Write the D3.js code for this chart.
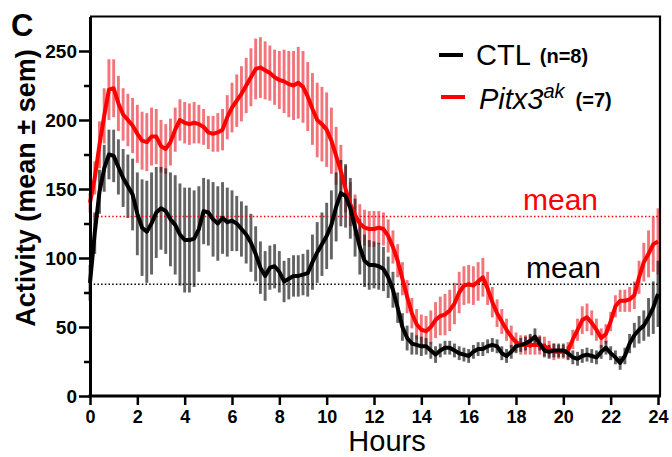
<!DOCTYPE html>
<html>
<head>
<meta charset="utf-8">
<script src="https://cdn.jsdelivr.net/npm/d3@7"></script>
<style>
  body { margin: 0; background: #fff; }
  text { font-family: Arial, "Liberation Sans", sans-serif; }
</style>
</head>
<body>
<script>
// activity binned every 0.2 h (12 min), mean and sem per group
var hours = d3.range(0, 24.001, 0.2)

var ctlMean = [
  82,118,148,165,175,174,166,158,152,146,
  132,122,119,125,133,136,134,128,124,117,
  113,113,114,121,134,133,128,125,129,126,
  127,125,121,117,111,103,93,87,93,94,
  90,83,85,87,87,88,89,97,104,110,
  116,124,137,147,145,136,122,108,98,95,
  95,94,92,86,77,64,50,42,38,37,
  36,36,33,30,33,35,35,33,31,30,
  29,32,34,34,36,37,36,31,29,32,
  36,37,38,40,43,38,33,32,33,33,
  33,31,28,27,29,30,29,28,32,35,
  31,28,24,29,38,44,48,51,57,64,
  74]
var ctlSem = [
  13,15,16,17,18,19,20,21,23,26,
  30,35,37,37,33,30,31,34,36,37,
  38,38,35,31,24,24,27,27,26,25,
  22,20,20,21,21,20,19,18,16,16,
  15,15,15,15,15,15,17,20,22,23,
  24,25,25,24,23,22,21,20,19,18,
  17,17,16,15,13,11,10,9,8,7,
  7,6,6,6,5,5,5,5,5,5,
  5,5,5,5,5,5,5,5,5,5,
  5,5,5,5,6,5,5,5,5,5,
  5,5,5,5,5,5,5,5,5,5,
  5,5,5,6,7,9,10,11,14,19,
  24]

var pitxMean = [
  140,158,182,203,222,223,212,204,200,196,
  190,185,184,188,188,181,179,184,193,200,
  198,197,198,197,195,191,190,191,193,202,
  209,214,219,225,231,237,238,236,234,231,
  229,228,226,225,227,224,217,208,200,197,
  193,185,174,163,150,139,131,125,122,121,
  121,122,121,116,108,98,85,72,60,52,
  48,47,50,55,58,59,62,67,75,80,
  81,80,83,86,78,68,60,54,48,43,
  39,37,37,37,37,37,36,34,32,32,
  32,33,41,48,55,57,53,48,42,45,
  54,65,69,69,70,73,86,97,103,110,
  112]
var pitxSem = [
  7,12,17,20,22,21,20,19,19,20,
  21,21,21,21,20,19,18,17,16,15,
  15,15,15,14,13,12,13,14,15,16,
  18,19,20,20,21,22,22,21,20,20,
  21,23,24,25,26,26,25,26,27,27,
  27,24,21,19,17,16,15,14,13,13,
  13,12,12,12,12,12,12,12,11,11,
  11,11,12,13,14,15,15,15,15,14,
  14,14,14,14,12,11,10,9,8,8,
  7,7,7,7,7,7,7,6,6,5,
  5,6,7,8,10,10,9,8,7,7,
  7,8,8,8,9,10,12,14,17,20,
  24]

var ctlAvg = 81, pitxAvg = 130
var yMajor = [0, 50, 100, 150, 200, 250]
var yMinor = [25, 75, 125, 175, 225]
var xTicks = [0, 2, 4, 6, 8, 10, 12, 14, 16, 18, 20, 22, 24]

var width = 672, height = 457

var svg = d3.select("body").append("svg")
  .attr("width", width)
  .attr("height", height)

var x = d3.scaleLinear().domain([0, 24]).range([90, 658])
var y = d3.scaleLinear().domain([0, 275]).range([396, 16.5])

// error bars first, red under black
function bars(mean, sem, color, op) {
  svg.append("g").selectAll("line")
    .data(hours)
    .enter()
    .append("line")
    .attr("x1", d => x(d)).attr("x2", d => x(d))
    .attr("y1", (d, i) => y(mean[i] - sem[i]))
    .attr("y2", (d, i) => y(mean[i] + sem[i]))
    .attr("stroke", color)
    .attr("stroke-opacity", op)
    .attr("stroke-width", 2.9)
}
bars(pitxMean, pitxSem, "#e8202a", 0.62)
bars(ctlMean, ctlSem, "#1a1a1a", 0.68)

// dotted mean lines
svg.append("line")
  .attr("x1", x(0)).attr("x2", 660)
  .attr("y1", y(pitxAvg)).attr("y2", y(pitxAvg))
  .attr("stroke", "#ff0000").attr("stroke-width", 1.5)
  .attr("stroke-dasharray", "1.5,2.2")
svg.append("line")
  .attr("x1", x(0)).attr("x2", 660)
  .attr("y1", y(ctlAvg)).attr("y2", y(ctlAvg))
  .attr("stroke", "#000").attr("stroke-width", 1.5)
  .attr("stroke-dasharray", "1.5,2.2")

svg.append("text").attr("x", 523).attr("y", 210)
  .attr("fill", "#ff0000").style("font-size", "30px").text("mean")
svg.append("text").attr("x", 526).attr("y", 278)
  .attr("fill", "#000").style("font-size", "30px").text("mean")

// mean curves
function curve(mean, color) {
  var line = d3.line()
    .x((d, i) => x(hours[i]))
    .y(d => y(d))
  svg.append("path")
    .datum(mean)
    .attr("d", line)
    .attr("fill", "none")
    .attr("stroke", color)
    .attr("stroke-width", 4)
    .attr("stroke-linejoin", "round")
}
curve(pitxMean, "#ff0000")
curve(ctlMean, "#000")

// frame top and right
svg.append("path")
  .attr("d", "M90,16.5H660V396")
  .attr("fill", "none").attr("stroke", "#000").attr("stroke-width", 2.2)

// y axis
var yAxis = svg.append("g")
  .attr("transform", "translate(90,0)")
  .call(d3.axisLeft(y).tickValues(yMajor).tickSize(11).tickSizeOuter(0).tickPadding(2))
yAxis.select(".domain").attr("stroke-width", 3)
yAxis.selectAll(".tick line").attr("stroke-width", 2.5)
yAxis.selectAll("text")
  .style("font-size", "19px").style("font-weight", "bold")
  .attr("fill", "#000")

var yMinorAxis = svg.append("g")
  .attr("transform", "translate(90,0)")
  .call(d3.axisLeft(y).tickValues(yMinor).tickSize(6).tickFormat(""))
yMinorAxis.select(".domain").remove()
yMinorAxis.selectAll(".tick line").attr("stroke-width", 2.5)

// x axis
var xAxis = svg.append("g")
  .attr("transform", "translate(0,396)")
  .call(d3.axisBottom(x).tickValues(xTicks).tickSize(9).tickSizeOuter(0).tickPadding(5))
xAxis.select(".domain").remove()
xAxis.selectAll(".tick line").attr("stroke-width", 2.5)
xAxis.selectAll("text")
  .style("font-size", "18px").style("font-weight", "bold")
  .attr("fill", "#000")
svg.append("line")
  .attr("x1", 88.5).attr("x2", 661)
  .attr("y1", 396).attr("y2", 396)
  .attr("stroke", "#000").attr("stroke-width", 3)

// axis titles
svg.append("text")
  .attr("x", 387).attr("y", 451)
  .attr("text-anchor", "middle")
  .style("font-size", "29px")
  .text("Hours")

svg.append("text")
  .attr("transform", "translate(35,188) rotate(-90)")
  .attr("text-anchor", "middle")
  .style("font-size", "27px").style("font-weight", "bold")
  .text("Activity (mean \u00b1 sem)")

svg.append("text")
  .attr("x", 11).attr("y", 36)
  .style("font-size", "31px").style("font-weight", "bold")
  .text("C")

// legend
svg.append("line").attr("x1", 439).attr("x2", 463).attr("y1", 55).attr("y2", 55)
  .attr("stroke", "#000").attr("stroke-width", 4)
svg.append("line").attr("x1", 441).attr("x2", 465).attr("y1", 97).attr("y2", 97)
  .attr("stroke", "#ff0000").attr("stroke-width", 4)

var l1 = svg.append("text").attr("x", 476).attr("y", 65)
l1.append("tspan").style("font-size", "29px").text("CTL")
l1.append("tspan").attr("dx", 9).attr("dy", -2).style("font-size", "20px").style("font-weight", "bold").text("(n=8)")

var l2 = svg.append("text").attr("x", 479).attr("y", 109)
l2.append("tspan").style("font-size", "29px").style("font-style", "italic").text("Pitx3")
l2.append("tspan").attr("dy", -11).style("font-size", "20px").style("font-style", "italic").text("ak")
l2.append("tspan").attr("dx", 11).attr("dy", 9).style("font-size", "20px").style("font-weight", "bold").text("(=7)")
</script>
</body>
</html>
